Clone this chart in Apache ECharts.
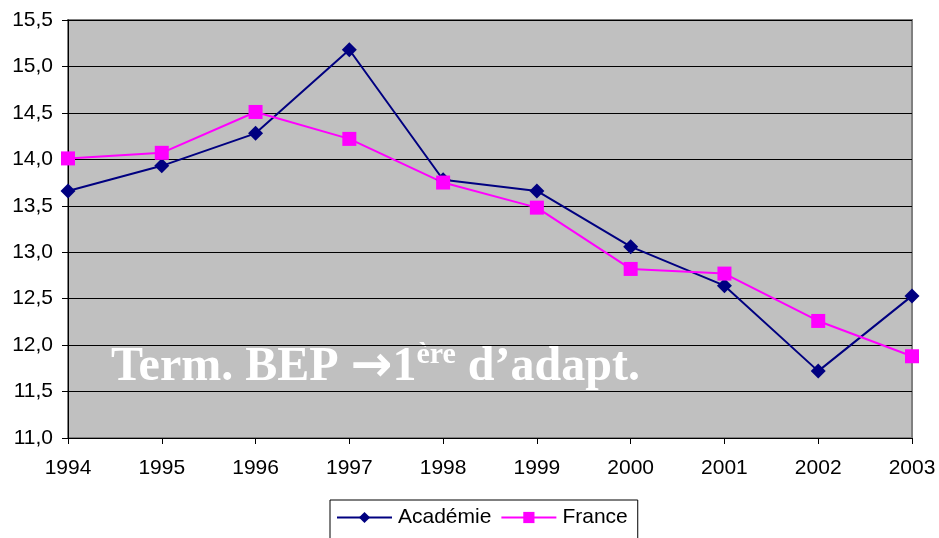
<!DOCTYPE html>
<html><head><meta charset="utf-8">
<script src="https://cdn.jsdelivr.net/npm/echarts@6/dist/echarts.min.js"></script>
<style>html,body{margin:0;padding:0;background:#fff}#c{width:939px;height:538px}</style>
</head><body><div id="c"></div>
<script>
const years = ['1994','1995','1996','1997','1998','1999','2000','2001','2002','2003'];
const academie = [13.66, 13.93, 14.28, 15.18, 13.78, 13.66, 13.06, 12.64, 11.72, 12.53];
const france = [14.01, 14.07, 14.51, 14.22, 13.75, 13.48, 12.82, 12.77, 12.26, 11.88];

const chart = echarts.init(document.getElementById('c'));
const fmt = v => v.toFixed(1).replace('.', ',');
const F = 'Liberation Sans, Arial';
const S = 'Liberation Serif, Times New Roman';
chart.setOption({
  animation: false,
  grid: {left: 68, right: 27, top: 20, bottom: 100, show: true, backgroundColor: '#C0C0C0', borderColor: '#808080', borderWidth: 2},
  xAxis: {
    type: 'category', data: years, boundaryGap: false,
    axisLine: {lineStyle: {color: '#000', width: 1}},
    axisTick: {show: true, length: 6, lineStyle: {color: '#000'}, alignWithLabel: true},
    axisLabel: {color: '#000', fontSize: 21, fontFamily: F, margin: 20},
    splitLine: {show: false}
  },
  yAxis: {
    type: 'value', min: 11, max: 15.5, interval: 0.5,
    axisLine: {show: true, lineStyle: {color: '#000', width: 1}},
    axisTick: {show: true, length: 6, lineStyle: {color: '#000'}},
    axisLabel: {color: '#000', fontSize: 21, fontFamily: F, formatter: fmt, margin: 15},
    splitLine: {show: true, lineStyle: {color: '#000', width: 1}}
  },
  legend: {
    left: 330, top: 500, orient: 'horizontal',
    borderColor: '#000', borderWidth: 1, padding: [7, 10, 20, 6],
    itemWidth: 55, itemHeight: 14, itemGap: 9,
    textStyle: {color: '#000', fontSize: 21, fontFamily: F, padding: [0, 0, 0, 1]},
    data: ['Académie', 'France']
  },
  graphic: [{
    type: 'text', left: 111, top: 340,
    style: {
      rich: {
        a: {fontSize: 48, fontWeight: 'bold', fontFamily: S, fill: '#fff', lineHeight: 56},
        r: {fontSize: 50, fontWeight: 'bold', fontFamily: 'DejaVu Sans', fill: '#fff', lineHeight: 56},
        s: {fontSize: 30, fontWeight: 'bold', fontFamily: S, fill: '#fff', verticalAlign: 'top', lineHeight: 56, padding: [0,0,18,0]}
      },
      text: '{a|Term. BEP }{r|\u2192}{a|1}{s|ère}{a| d\u2019adapt.}'
    }
  }],
  series: [
    {name: 'Académie', type: 'line', data: academie, symbol: 'diamond', symbolSize: 15,
     itemStyle: {color: '#000080'}, lineStyle: {color: '#000080', width: 2}},
    {name: 'France', type: 'line', data: france, symbol: 'rect', symbolSize: 14,
     itemStyle: {color: '#FF00FF'}, lineStyle: {color: '#FF00FF', width: 2}}
  ]
});
</script></body></html>
